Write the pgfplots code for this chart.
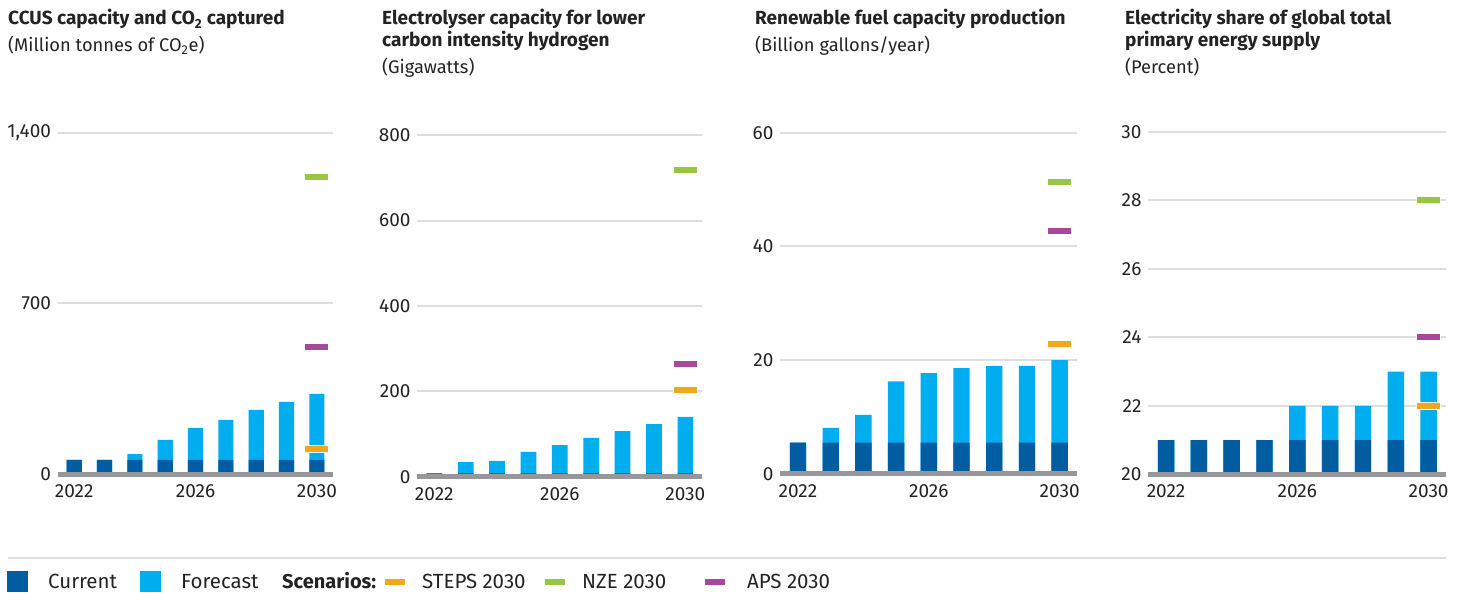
\documentclass[border=0pt]{standalone}
\usepackage{fontspec}
\setmainfont{Fira Sans}
\usepackage{pgfplots}
\pgfplotsset{compat=1.18}
\definecolor{cur}{RGB}{0,93,162}
\definecolor{fcst}{RGB}{0,174,239}
\definecolor{steps}{RGB}{242,167,27}
\definecolor{nze}{RGB}{150,198,67}
\definecolor{aps}{RGB}{168,71,156}
\definecolor{basegray}{RGB}{150,150,155}
\definecolor{gridgray}{RGB}{222,222,222}
\definecolor{txt}{RGB}{35,35,35}
\pgfplotsset{
  panel/.style={
    scale only axis,
    anchor=south west,
    xmin=2021.45, xmax=2030.53,
    axis line style={draw=none},
    major tick length=0pt,
    ymajorgrids, grid style={gridgray, line width=2pt},
    xtick={2022,2026,2030},
    x tick label style={yshift=-7pt, /pgf/number format/1000 sep={}},
    y tick label style={xshift=-3pt, /pgf/number format/1000 sep={,}},
    /pgf/number format/assume math mode=true,
    tick label style={font=\fontsize{19}{21}\selectfont, text=txt},
  },
  cbar/.style={ybar, bar width=0.5, bar shift=0pt, draw=none, fill=#1},
  scenw/.style={only marks, mark=-, mark size=12.5pt, mark options={line width=8pt, draw=white}, forget plot},
  scen/.style={only marks, mark=-, mark size=11.5pt, color=#1, mark options={line width=6pt, draw=#1}, forget plot},
}
\begin{document}
\begin{tikzpicture}[x=1pt,y=1pt]
\useasboundingbox (0,0) rectangle (1459,592);
\tikzset{ttl/.style={anchor=base west, inner sep=0pt, text=txt, font=\bfseries\fontsize{19}{22}\selectfont},
         sub/.style={anchor=base west, inner sep=0pt, text=txt, font=\fontsize{18.3}{22}\selectfont},
         leg/.style={anchor=base west, inner sep=0pt, text=txt, font=\fontsize{20.5}{22}\selectfont}}
% ---------- Panel 1
\begin{axis}[panel, name=a1, at={(57.5pt,117.7pt)}, width=275.5pt, height=341.6pt,
  ymin=0, ymax=1400, ytick={0,700,1400}]
\addplot[cbar=fcst] coordinates {(2022,59) (2023,59) (2024,83) (2025,141) (2026,190) (2027,223) (2028,264) (2029,297) (2030,330)};
\addplot[cbar=cur] coordinates {(2022,59) (2023,59) (2024,59) (2025,59) (2026,59) (2027,59) (2028,59) (2029,59) (2030,59)};
\addplot[scenw] coordinates {(2030,102) (2030,522) (2030,1217)};
\addplot[scen=steps] coordinates {(2030,102)};
\addplot[scen=aps] coordinates {(2030,522)};
\addplot[scen=nze] coordinates {(2030,1217)};
\end{axis}
\draw[basegray, line width=5pt] (a1.south west) -- (a1.south east);
% ---------- Panel 2
\begin{axis}[panel, name=a2, at={(417pt,115.3pt)}, width=285pt, height=341.4pt,
  ymin=0, ymax=800, ytick={0,200,400,600,800}]
\addplot[cbar=fcst] coordinates {(2022,8) (2023,34) (2024,37) (2025,58) (2026,74) (2027,91) (2028,107) (2029,123) (2030,140)};
\addplot[cbar=cur] coordinates {(2022,8) (2023,8) (2024,8) (2025,8) (2026,8) (2027,8) (2028,8) (2029,8) (2030,8)};
\addplot[scenw] coordinates {(2030,203) (2030,264) (2030,718)};
\addplot[scen=steps] coordinates {(2030,203)};
\addplot[scen=aps] coordinates {(2030,264)};
\addplot[scen=nze] coordinates {(2030,718)};
\end{axis}
\draw[basegray, line width=5pt] (a2.south west) -- (a2.south east);
% ---------- Panel 3
\begin{axis}[panel, name=a3, at={(780pt,118pt)}, width=297pt, height=341.3pt,
  ymin=0, ymax=60, ytick={0,20,40,60}]
\addplot[cbar=fcst] coordinates {(2022,5.5) (2023,8.1) (2024,10.4) (2025,16.3) (2026,17.75) (2027,18.6) (2028,19.0) (2029,19.0) (2030,20.0)};
\addplot[cbar=cur] coordinates {(2022,5.5) (2023,5.5) (2024,5.5) (2025,5.5) (2026,5.5) (2027,5.5) (2028,5.5) (2029,5.5) (2030,5.5)};
\addplot[scenw] coordinates {(2030,22.8) (2030,42.7) (2030,51.3)};
\addplot[scen=steps] coordinates {(2030,22.8)};
\addplot[scen=aps] coordinates {(2030,42.7)};
\addplot[scen=nze] coordinates {(2030,51.3)};
\end{axis}
\draw[basegray, line width=5pt] (a3.south west) -- (a3.south east);
% ---------- Panel 4
\begin{axis}[panel, name=a4, at={(1148pt,117.7pt)}, width=298pt, height=342.5pt,
  ymin=20, ymax=30, ytick={20,22,24,26,28,30}]
\addplot[cbar=fcst] coordinates {(2022,21) (2023,21) (2024,21) (2025,21) (2026,22) (2027,22) (2028,22) (2029,23) (2030,23)};
\addplot[cbar=cur] coordinates {(2022,21) (2023,21) (2024,21) (2025,21) (2026,21) (2027,21) (2028,21) (2029,21) (2030,21)};
\addplot[scenw] coordinates {(2030,22) (2030,24) (2030,28)};
\addplot[scen=steps] coordinates {(2030,22)};
\addplot[scen=aps] coordinates {(2030,24)};
\addplot[scen=nze] coordinates {(2030,28)};
\end{axis}
\draw[basegray, line width=5pt] (a4.south west) -- (a4.south east);
% ---------- Titles
\node[ttl] at (8,567) {CCUS capacity and CO\textsubscript{2} captured};
\node[sub] at (8,540) {(Million tonnes of CO\textsubscript{2}e)};
\node[ttl] at (382,567) {Electrolyser capacity for lower};
\node[ttl] at (382,545) {carbon intensity hydrogen};
\node[sub] at (382,518) {(Gigawatts)};
\node[ttl] at (755,567) {Renewable fuel capacity production};
\node[sub] at (755,540) {(Billion gallons/year)};
\node[ttl] at (1125,567) {Electricity share of global total};
\node[ttl] at (1125,545) {primary energy supply};
\node[sub] at (1125,518) {(Percent)};
% ---------- Legend
\draw[gridgray, line width=1.5pt] (8,34) -- (1446,34);
\fill[cur] (7,0) rectangle (28,21);
\node[leg] at (48,3.5) {Current};
\fill[fcst] (140,0) rectangle (161,21);
\node[leg] at (181,3.5) {Forecast};
\node[leg, font=\bfseries\fontsize{20}{22}\selectfont] at (282,3.5) {Scenarios:};
\fill[steps] (385,7) rectangle (405,13);
\node[leg] at (422,3.5) {STEPS 2030};
\fill[nze] (545,7) rectangle (565,13);
\node[leg] at (582,3.5) {NZE 2030};
\fill[aps] (705,7) rectangle (725,13);
\node[leg] at (747,3.5) {APS 2030};
\end{tikzpicture}
\end{document}
